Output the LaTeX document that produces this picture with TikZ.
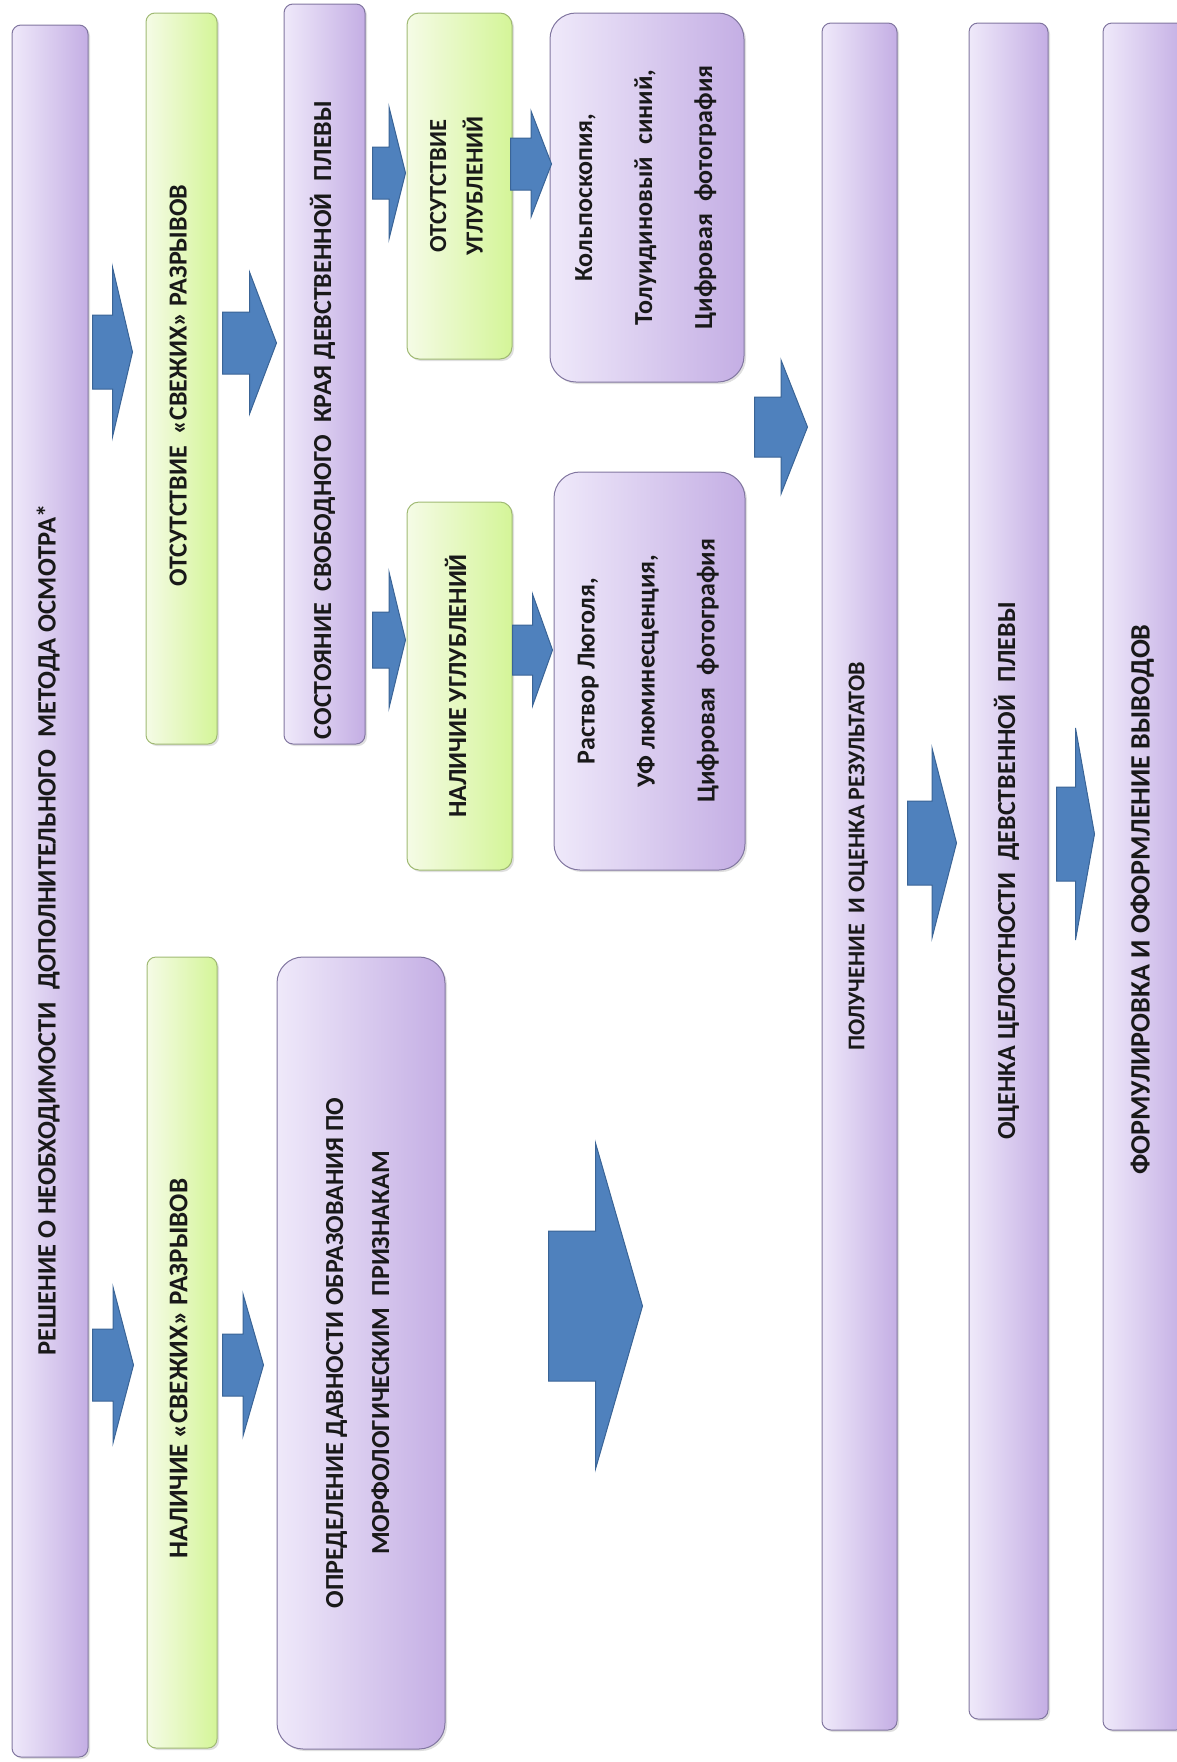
\documentclass[tikz,border=0pt]{standalone}
\usepackage{fontspec}
\setmainfont{Carlito}[BoldFont={Carlito Bold}]
\usepackage{graphicx}
\usetikzlibrary{calc, shadows}

\definecolor{lilacL}{HTML}{EFE9FA}
\definecolor{lilacR}{HTML}{C4AEE4}
\definecolor{lilacEdge}{HTML}{8176A0}
\definecolor{limeL}{HTML}{F5FBE6}
\definecolor{limeR}{HTML}{D4F598}
\definecolor{limeEdge}{HTML}{A0BA74}
\definecolor{flowBlue}{HTML}{4F81BD}
\definecolor{flowEdge}{HTML}{3A6496}

% rotated text, read from bottom to top
\newcommand{\vtext}[2][0pt]{\rotatebox{90}{\hspace*{#1}\begin{tabular}{@{}c@{}}#2\end{tabular}}}

\tikzset{
	stage/.style={
		draw=lilacEdge,
		line width=1pt,
		left color=lilacL,
		right color=lilacR,
		rounded corners=9pt,
		inner sep=0pt,
		text=black!90,
		drop shadow={shadow xshift=2pt, shadow yshift=-2pt, opacity=0.25}
	},
	finding/.style={
		stage,
		draw=limeEdge,
		left color=limeL,
		right color=limeR
	},
	method/.style={
		stage,
		rounded corners=26pt
	},
	fs/.style={
		font=\bfseries\fontsize{#1}{#1}\selectfont
	},
	% block arrow: shaft half, head half, tail gap, tip gap
	flow/.style n args={4}{
		fill=flowBlue,
		draw=flowEdge,
		line width=1pt,
		to path={let \p1=(\tikztostart), \p2=(\tikztotarget),
			\n1={\x1+#3}, \n2={\x2-#4}, \n3={(\n1+\n2)/2} in
			(\n1,\y1+#1) -- (\n3,\y1+#1) -- (\n3,\y1+#2) -- (\n2,\y1)
			-- (\n3,\y1-#2) -- (\n3,\y1-#1) -- (\n1,\y1-#1) -- cycle}
	}
}

\begin{document}
\begin{tikzpicture}[x=1pt, y=-1pt]
	\useasboundingbox (0,0) rectangle (1176,1762);
	
	% Decision
	\node[stage, fs=26.5, minimum width=76pt, minimum height=1732pt] (decide) at (50,891)
		{\vtext[-78pt]{РЕШЕНИЕ О НЕОБХОДИМОСТИ \ ДОПОЛНИТЕЛЬНОГО \ МЕТОДА ОСМОТРА*}};
	
	% Tears
	\node[finding, fs=26, minimum width=71pt, minimum height=731pt] (noFresh) at (181.5,378.5)
		{\vtext[-14pt]{ОТСУТСТВИЕ \ «СВЕЖИХ» РАЗРЫВОВ}};
	\node[finding, fs=27, minimum width=70pt, minimum height=791pt] (fresh) at (182,1352.5)
		{\vtext[-32pt]{НАЛИЧИЕ «СВЕЖИХ» РАЗРЫВОВ}};
	
	% Edge of the hymen / age of the tears
	\node[stage, fs=26, minimum width=81pt, minimum height=740pt] (edge) at (324.5,374)
		{\vtext[-92pt]{СОСТОЯНИЕ \ СВОБОДНОГО \ КРАЯ ДЕВСТВЕННОЙ \ ПЛЕВЫ}};
	\node[method, fs=26, minimum width=168pt, minimum height=792pt] (dating) at (361,1353)
		{\vtext{ОПРЕДЕЛЕНИЕ ДАВНОСТИ ОБРАЗОВАНИЯ ПО\\[20pt] МОРФОЛОГИЧЕСКИМ \ ПРИЗНАКАМ}};
	
	% Notches
	\node[finding, fs=24.5, rounded corners=12pt, minimum width=105pt, minimum height=346pt] (noDepth) at (459.5,186)
		{\vtext{ОТСУТСТВИЕ\\[9pt] УГЛУБЛЕНИЙ}};
	\node[finding, fs=26, rounded corners=12pt, minimum width=105pt, minimum height=368pt] (depth) at (459.5,686)
		{\vtext{НАЛИЧИЕ УГЛУБЛЕНИЙ}};
	
	% Methods
	\node[method, fs=26, minimum width=194pt, minimum height=369pt] (colpo) at (647,197.5)
		{\vtext{Кольпоскопия,\\[34pt] Толуидиновый \ синий,\\[34pt] Цифровая \ фотография}};
	\node[method, fs=26, minimum width=191pt, minimum height=398pt] (lugol) at (649.5,671)
		{\vtext{Раствор Люголя,\\[34pt] УФ люминесценция,\\[34pt] Цифровая \ фотография}};
	
	% Results
	\node[stage, fs=24, minimum width=75pt, minimum height=1707pt] (results) at (859.5,876.5)
		{\vtext[40pt]{ПОЛУЧЕНИЕ \ И ОЦЕНКА РЕЗУЛЬТАТОВ}};
	\node[stage, fs=26, minimum width=79pt, minimum height=1696pt] (integrity) at (1008.5,871)
		{\vtext{ОЦЕНКА ЦЕЛОСТНОСТИ \ ДЕВСТВЕННОЙ \ ПЛЕВЫ}};
	\node[stage, fs=28, minimum width=82pt, minimum height=1707pt] (report) at (1144,876.5)
		{\vtext[-46pt]{ФОРМУЛИРОВКА И ОФОРМЛЕНИЕ ВЫВОДОВ}};
	
	% Arrows
	\draw[flow={37}{85}{4}{13}] (decide.east |- 0,352) to (noFresh.west |- 0,352);
	\draw[flow={36}{78}{4}{13}] (decide.east |- 0,1365) to (fresh.west |- 0,1365);
	\draw[flow={31}{71}{5}{7}] (noFresh.east |- 0,343) to (edge.west |- 0,343);
	\draw[flow={31}{71}{5}{13}] (fresh.east |- 0,1365) to (dating.west |- 0,1365);
	\draw[flow={26}{66}{7}{1}] (edge.east |- 0,173) to (noDepth.west |- 0,173);
	\draw[flow={28}{68}{7}{1}] (edge.east |- 0,640) to (depth.west |- 0,640);
	\draw[flow={26}{53}{-2}{-2}] (noDepth.east |- 0,164) to (colpo.west |- 0,164);
	\draw[flow={25}{56}{0}{1}] (depth.east |- 0,650) to (lugol.west |- 0,650);
	\draw[flow={30}{67}{10}{14}] (colpo.east |- 0,427) to (results.west |- 0,427);
	\draw[flow={75}{163}{103}{179}] (dating.east |- 0,1306) to (results.west |- 0,1306);
	\draw[flow={42}{95}{10}{12}] (results.east |- 0,843) to (integrity.west |- 0,843);
	\draw[flow={47}{106}{8}{8}] (integrity.east |- 0,834) to (report.west |- 0,834);
	
\end{tikzpicture}
\end{document}
